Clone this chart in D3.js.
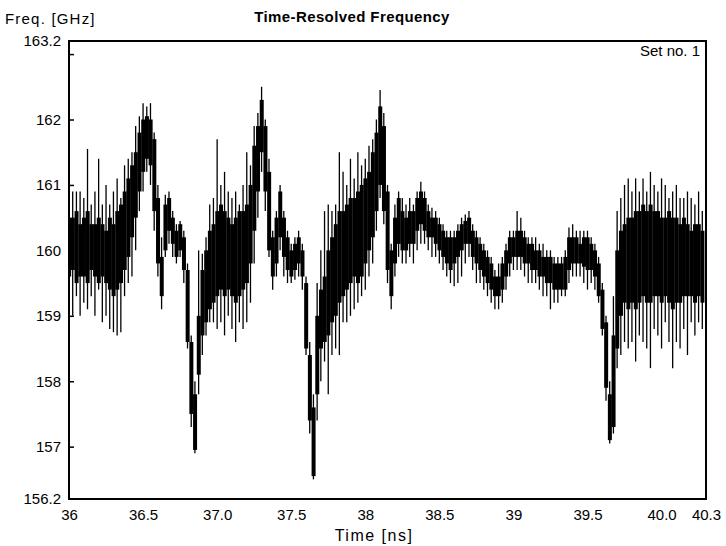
<!DOCTYPE html>
<html>
<head>
<meta charset="utf-8">
<script src="https://cdn.jsdelivr.net/npm/d3@7"></script>
<style>
  body { margin: 0; background: #fff; }
  text { font-family: "Liberation Sans", Arial, sans-serif; fill: #000; }
  .axis path { display: none; }
  .axis line { stroke: #000; stroke-width: 1.5; }
</style>
</head>
<body>
<div id="chart"></div>
<script>
// sample times (ns)
const timeNs = [
  36.000, 36.025, 36.050, 36.075, 36.100, 36.125, 36.150, 36.175, 36.200, 36.225,
  36.250, 36.275, 36.300, 36.325, 36.350, 36.375, 36.400, 36.425, 36.450, 36.475,
  36.500, 36.525, 36.550, 36.575, 36.600, 36.625, 36.650, 36.675, 36.700, 36.725,
  36.750, 36.775, 36.800, 36.825, 36.850, 36.875, 36.900, 36.925, 36.950, 36.975,
  37.000, 37.025, 37.050, 37.075, 37.100, 37.125, 37.150, 37.175, 37.200, 37.225,
  37.250, 37.275, 37.300, 37.325, 37.350, 37.375, 37.400, 37.425, 37.450, 37.475,
  37.500, 37.525, 37.550, 37.575, 37.600, 37.625, 37.650, 37.675, 37.700, 37.725,
  37.750, 37.775, 37.800, 37.825, 37.850, 37.875, 37.900, 37.925, 37.950, 37.975,
  38.000, 38.025, 38.050, 38.075, 38.100, 38.125, 38.150, 38.175, 38.200, 38.225,
  38.250, 38.275, 38.300, 38.325, 38.350, 38.375, 38.400, 38.425, 38.450, 38.475,
  38.500, 38.525, 38.550, 38.575, 38.600, 38.625, 38.650, 38.675, 38.700, 38.725,
  38.750, 38.775, 38.800, 38.825, 38.850, 38.875, 38.900, 38.925, 38.950, 38.975,
  39.000, 39.025, 39.050, 39.075, 39.100, 39.125, 39.150, 39.175, 39.200, 39.225,
  39.250, 39.275, 39.300, 39.325, 39.350, 39.375, 39.400, 39.425, 39.450, 39.475,
  39.500, 39.525, 39.550, 39.575, 39.600, 39.625, 39.650, 39.675, 39.700, 39.725,
  39.750, 39.775, 39.800, 39.825, 39.850, 39.875, 39.900, 39.925, 39.950, 39.975,
  40.000, 40.025, 40.050, 40.075, 40.100, 40.125, 40.150, 40.175, 40.200, 40.225,
  40.250, 40.275
];

// dense part of the trace (GHz)
const coreLow = [
  159.6,159.7,159.5,159.6,159.6,159.5,159.7,159.6,159.5,159.6,
  159.5,159.4,159.3,159.4,159.5,159.7,159.9,160.2,160.5,160.9,
  161.2,161.4,161.3,160.6,159.8,159.3,160.0,160.3,160.1,159.9,
  160.0,159.7,158.6,157.5,156.95,158.1,158.7,158.9,159.1,159.2,
  159.3,159.4,159.3,159.4,159.3,159.2,159.3,159.4,159.5,159.8,
  160.3,160.9,161.5,160.9,160.0,159.6,159.8,160.2,159.9,159.7,
  159.6,159.7,159.8,159.6,158.5,157.4,156.55,157.8,158.5,158.6,
  158.7,158.9,159.0,159.2,159.3,159.4,159.5,159.6,159.5,159.6,
  159.8,160.0,160.2,160.6,161.0,160.6,159.7,159.3,159.8,160.1,
  160.0,160.0,160.1,160.1,160.3,160.4,160.3,160.2,160.2,160.1,
  160.0,159.9,159.8,159.7,159.8,159.9,160.0,160.1,160.1,159.9,
  159.8,159.7,159.6,159.5,159.4,159.3,159.3,159.4,159.6,159.8,
  159.9,159.9,159.9,159.8,159.8,159.7,159.7,159.6,159.6,159.5,
  159.5,159.4,159.4,159.4,159.4,159.7,159.8,159.8,159.8,159.75,
  159.7,159.7,159.6,159.3,158.8,157.9,157.1,157.3,158.5,159.0,
  159.2,159.1,159.2,159.1,159.2,159.3,159.2,159.2,159.3,159.3,
  159.2,159.3,159.2,159.1,159.2,159.2,159.3,159.3,159.3,159.2,
  159.3,159.2
];
const coreHigh = [
  160.5,160.5,160.6,160.4,160.5,160.6,160.4,160.4,160.5,160.4,
  160.3,160.5,160.4,160.6,160.7,160.9,161.1,161.3,161.5,161.8,
  162.0,162.05,162.0,161.7,160.8,159.9,160.7,160.8,160.5,160.3,
  160.4,160.2,159.7,158.6,157.8,159.0,159.7,160.0,160.3,160.4,
  160.6,160.7,160.6,160.5,160.4,160.5,160.6,160.6,160.7,161.0,
  161.6,161.9,162.3,161.9,161.2,160.2,160.5,160.9,160.5,160.2,
  160.0,160.1,160.2,160.0,159.5,158.4,157.6,159.0,159.4,159.6,
  160.0,160.2,160.4,160.6,160.6,160.7,160.8,160.8,160.9,161.0,
  161.1,161.2,161.5,161.8,162.2,161.9,160.9,160.0,160.5,160.8,
  160.6,160.5,160.6,160.6,160.8,160.9,160.8,160.6,160.5,160.5,
  160.4,160.3,160.2,160.2,160.2,160.3,160.4,160.45,160.5,160.3,
  160.2,160.1,160.0,159.9,159.8,159.6,159.6,159.8,160.0,160.2,
  160.2,160.3,160.3,160.2,160.1,160.1,160.0,160.0,159.9,159.9,
  159.9,159.8,159.8,159.8,159.9,160.2,160.2,160.2,160.1,160.2,
  160.2,160.1,160.0,159.8,159.4,158.9,157.8,158.7,160.0,160.3,
  160.4,160.5,160.5,160.6,160.6,160.7,160.6,160.7,160.6,160.6,
  160.5,160.5,160.6,160.5,160.5,160.4,160.5,160.4,160.3,160.4,
  160.4,160.3
];

// extent of the thin noise spikes (GHz)
const spikeLow = [
  159.1,159.0,159.3,159.0,159.2,159.1,159.3,159.0,159.4,158.9,
  159.0,158.8,158.75,158.7,158.75,159.3,159.5,159.6,160.0,160.6,
  160.9,161.2,161.0,160.3,159.6,159.1,159.9,160.1,159.9,159.8,
  159.9,159.5,158.5,157.3,156.9,157.8,158.4,158.7,158.9,158.9,
  158.8,158.9,158.7,159.0,158.8,158.6,158.9,158.8,158.9,159.2,
  159.8,160.5,161.2,160.6,159.9,159.4,159.6,160.0,159.6,159.5,
  159.5,159.55,159.6,159.4,158.4,157.2,156.5,157.4,158.0,158.3,
  157.8,158.4,158.5,158.4,158.9,158.9,159.0,159.1,159.2,159.3,
  159.4,159.6,159.8,160.3,160.8,160.4,159.5,159.1,159.6,159.9,
  159.8,159.8,159.9,159.8,160.0,160.1,160.1,160.0,159.9,159.9,
  159.8,159.7,159.6,159.5,159.45,159.5,159.6,159.8,159.9,159.7,
  159.5,159.5,159.4,159.3,159.2,159.1,159.1,159.2,159.4,159.6,
  159.7,159.7,159.7,159.6,159.5,159.5,159.5,159.4,159.3,159.3,
  159.1,159.2,159.2,159.3,159.3,159.5,159.6,159.6,159.6,159.5,
  159.4,159.5,159.4,159.2,158.7,157.7,157.05,157.2,158.2,158.4,
  158.6,158.5,158.6,158.3,158.7,158.6,158.5,158.2,158.8,158.7,
  158.5,158.9,158.6,158.2,158.6,158.5,158.8,158.4,158.9,158.7,
  158.9,158.8
];
const spikeHigh = [
  160.7,160.9,160.9,160.9,160.8,161.55,160.7,160.9,161.4,160.7,
  161.0,160.7,160.9,161.1,160.8,161.3,161.4,161.5,161.9,162.05,
  162.25,162.2,162.25,161.8,161.0,160.2,160.85,160.9,160.6,160.4,
  160.45,160.3,159.8,158.7,158.0,160.0,159.95,160.2,160.7,160.8,
  161.7,161.0,161.2,160.9,160.8,160.9,160.7,161.0,161.5,161.3,
  161.9,162.1,162.5,162.0,161.4,160.3,160.6,161.0,160.6,160.3,
  160.1,160.2,160.3,160.1,159.6,158.6,157.8,159.5,160.0,160.6,
  160.7,160.6,160.7,161.5,161.2,161.0,161.4,161.1,161.5,161.3,
  161.4,161.6,161.7,162.0,162.45,162.1,161.0,160.1,160.7,160.9,
  160.8,160.7,160.8,160.7,160.9,161.05,160.9,160.7,160.65,160.6,
  160.5,160.4,160.3,160.3,160.3,160.4,160.5,160.55,160.6,160.4,
  160.3,160.2,160.1,160.0,159.9,159.7,159.8,159.9,160.1,160.3,
  160.3,160.6,160.5,160.3,160.2,160.2,160.2,160.1,160.1,160.0,
  160.0,159.9,159.9,159.9,160.0,160.35,160.4,160.3,160.3,160.3,
  160.3,160.2,160.1,159.9,159.5,159.0,158.0,159.3,160.6,160.8,
  161.0,161.1,160.9,161.1,160.9,161.1,160.9,161.2,161.0,160.9,
  161.1,161.0,160.8,160.9,161.0,160.8,160.8,160.9,160.8,160.7,
  160.9,160.6
];

// axis ticks and labels
const xTickValues = [36, 36.5, 37, 37.5, 38, 38.5, 39, 39.5, 40, 40.3];
const xTickLabels = ["36", "36.5", "37.0", "37.5", "38", "38.5", "39", "39.5", "40.0", "40.3"];
const yTickMarks = [157, 158, 159, 160, 161, 162, 163];
const yLabelValues = [156.2, 157, 158, 159, 160, 161, 162, 163.2];
const yLabelText = ["156.2", "157", "158", "159", "160", "161", "162", "163.2"];

const W = 726, H = 546;
const margin = {top: 41, right: 20, bottom: 47, left: 69};
const width = W - margin.left - margin.right,
      height = H - margin.top - margin.bottom;

const svg = d3.select("#chart")
    .append("svg")
    .attr("width", W)
    .attr("height", H);

const g = svg.append("g")
    .attr("transform", `translate(${margin.left},${margin.top})`);

const x = d3.scaleLinear().domain([36, 40.3]).range([0, width]);
const y = d3.scaleLinear().domain([156.2, 163.2]).range([height, 0]);

g.append("clipPath").attr("id", "plot")
  .append("rect").attr("width", width).attr("height", height);

const rows = timeNs.map((t, i) => ({
    t: t,
    lo: coreLow[i], hi: coreHigh[i],
    slo: spikeLow[i], shi: spikeHigh[i],
    step: (i < timeNs.length - 1 ? timeNs[i + 1] - t : t - timeNs[i - 1])
}));

const trace = g.append("g").attr("clip-path", "url(#plot)");

// dense core of the trace
trace.selectAll(".core")
    .data(rows)
    .enter().append("rect")
    .attr("class", "core")
    .attr("x", d => x(d.t - d.step / 2))
    .attr("width", d => x(d.t + d.step / 2) - x(d.t - d.step / 2) + 0.3)
    .attr("y", d => y(d.hi))
    .attr("height", d => y(d.lo) - y(d.hi))
    .attr("fill", "#000");

// noise spikes
trace.selectAll(".spike")
    .data(rows)
    .enter().append("line")
    .attr("class", "spike")
    .attr("x1", d => x(d.t)).attr("x2", d => x(d.t))
    .attr("y1", d => y(d.slo)).attr("y2", d => y(d.shi))
    .attr("stroke", "#000")
    .attr("stroke-width", 1.3);

// inward y ticks
g.append("g")
    .attr("class", "axis")
    .call(d3.axisRight(y).tickValues(yTickMarks).tickSize(5).tickFormat(""));

// y labels
g.append("g")
    .attr("class", "axis")
    .call(d3.axisLeft(y).tickValues(yLabelValues).tickSize(0).tickPadding(8)
        .tickFormat((d, i) => yLabelText[i]))
    .selectAll("text").style("font-size", "15px");

// x labels
g.append("g")
    .attr("class", "axis")
    .attr("transform", `translate(0,${height})`)
    .call(d3.axisBottom(x).tickValues(xTickValues).tickSize(0).tickPadding(10)
        .tickFormat((d, i) => xTickLabels[i]))
    .selectAll("text").style("font-size", "15px");

// frame
g.append("rect")
    .attr("width", width).attr("height", height)
    .attr("fill", "none").attr("stroke", "#000").attr("stroke-width", 2);

svg.append("text")
    .attr("x", 5).attr("y", 24)
    .style("font-size", "15px").style("letter-spacing", "1.2px")
    .text("Freq. [GHz]");

svg.append("text")
    .attr("x", 352).attr("y", 22)
    .attr("text-anchor", "middle")
    .style("font-size", "15px").style("font-weight", "bold")
    .style("letter-spacing", "0.4px")
    .text("Time-Resolved Frequency");

svg.append("text")
    .attr("x", margin.left + width - 6).attr("y", 56)
    .attr("text-anchor", "end")
    .style("font-size", "15px")
    .text("Set no. 1");

svg.append("text")
    .attr("x", 374).attr("y", 541)
    .attr("text-anchor", "middle")
    .style("font-size", "16px").style("letter-spacing", "1.5px")
    .text("Time [ns]");
</script>
</body>
</html>
